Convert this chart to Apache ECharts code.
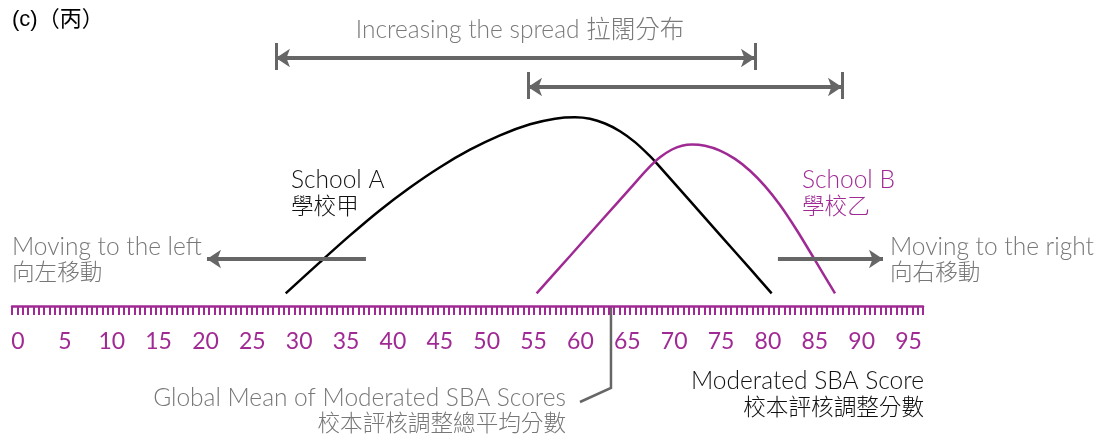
<!DOCTYPE html>
<html>
<head>
<meta charset="utf-8">
<title>Moderated SBA Score</title>
<script src="https://cdn.jsdelivr.net/npm/echarts@6/dist/echarts.min.js"></script>
<style>
	html, body { margin: 0; padding: 0; background: #fff; }
	#chart { width: 1099px; height: 437px; }
</style>
</head>
<body>
<div id="chart"></div>
<script>
// score axis
const scoreMin = 0
const scoreMax = 95
const tickLabels = [0, 5, 10, 15, 20, 25, 30, 35, 40, 45, 50, 55, 60, 65, 70, 75, 80, 85, 90, 95]
// the ruler under the curves has its own fine divisions
const rulerDivisions = 171

// curves [score, height]
const schoolA = [[28.56, 12.7], [32.22, 43.9], [35.42, 70.6], [38.62, 95.8], [41.82, 118.5], [45.02, 138.8], [48.22, 156.3], [51.42, 170.7], [54.62, 181.7], [57.29, 187.3], [59.42, 188.7], [61.02, 187.2], [62.62, 182.5], [64.22, 174.8], [65.82, 163.9], [67.42, 149.9], [68.14, 142.7], [71.69, 105.1], [74.89, 71.2], [78.09, 37.3], [80.4, 12.7]]
const schoolB = [[55.33, 12.7], [58.89, 50], [62.44, 87.5], [65.29, 117.4], [67.1, 136.4], [68.49, 148.7], [69.77, 156.5], [70.83, 160.25], [71.9, 161.5], [73.29, 160.2], [74.89, 155.4], [76.49, 147.1], [78.09, 135.3], [79.69, 119.9], [81.29, 101], [83.07, 76], [85.03, 45.8], [87.16, 12.7]]

// annotations
const globalMean = 63.26
const spreadA = [27.52, 78.62]
const spreadB = [54.41, 87.9]
const moveLeft = [37.12, 20.16]
const moveRight = [81.07, 92.28]

const purple = "#a02a94"
const grey = "#666666"
const font = 'Lato, "Noto Sans CJK TC", sans-serif'

const seg = (x1, y1, x2, y2, style, sym) => [
	{ coord: [x1, y1], symbol: sym ? sym[0] : "none", symbolSize: 14, lineStyle: style },
	{ coord: [x2, y2], symbol: sym ? sym[1] : "none", symbolSize: 14 }
]

const arrowStyle = { color: grey, width: 4, type: "solid" }
const barStyle = { color: grey, width: 3, type: "solid" }

const markLines = [
	seg(spreadA[0], 248, spreadA[1], 248, arrowStyle, ["arrow", "arrow"]),
	seg(spreadA[0], 263, spreadA[0], 236, barStyle),
	seg(spreadA[1], 263, spreadA[1], 236, barStyle),
	seg(spreadB[0], 219, spreadB[1], 219, arrowStyle, ["arrow", "arrow"]),
	seg(spreadB[0], 234, spreadB[0], 207, barStyle),
	seg(spreadB[1], 234, spreadB[1], 207, barStyle),
	seg(moveLeft[0], 47, moveLeft[1], 47, arrowStyle, ["none", "arrow"]),
	seg(moveRight[0], 47, moveRight[1], 47, arrowStyle, ["none", "arrow"])
]

const txt = (text, x, y, color, align, size) => ({
	type: "text",
	x: x,
	y: y,
	style: {
		text: text,
		fill: color,
		font: "300 " + (size || 24.5) + "px " + font,
		textAlign: align || "left",
		textVerticalAlign: "middle"
	}
})
const cjk = 22.6

const chart = echarts.init(document.getElementById("chart"))

const options = {
	animation: false,
	grid: [
		{ left: 18, right: 190.5, top: 6, bottom: 131, outerBoundsMode: "none" },
		{ left: 12, right: 176, top: 6, bottom: 131, outerBoundsMode: "none" }
	],
	xAxis: [
		{
			type: "value",
			gridIndex: 0,
			min: scoreMin,
			max: scoreMax,
			interval: 5,
			splitLine: { show: false },
			axisLine: { show: false },
			axisTick: { show: false },
			axisLabel: {
				color: purple,
				fontFamily: font,
				fontSize: 23,
				margin: 24,
				formatter: v => (tickLabels.includes(v) ? String(v) : "")
			}
		},
		{
			type: "value",
			gridIndex: 1,
			position: "bottom",
			min: 0,
			max: rulerDivisions,
			interval: 1,
			splitLine: { show: false },
			axisLine: { onZero: false, lineStyle: { color: purple, width: 2.5 } },
			axisTick: { length: 9, lineStyle: { color: purple, width: 2 } },
			axisLabel: { show: false }
		}
	],
	yAxis: [
		{ type: "value", gridIndex: 0, min: 0, max: 300, show: false },
		{ type: "value", gridIndex: 1, min: 0, max: 300, show: false }
	],
	series: [
		{
			name: "School A",
			type: "line",
			data: schoolA,
			smooth: 0.3,
			symbol: "none",
			lineStyle: { color: "#000", width: 2.5 }
		},
		{
			name: "School B",
			type: "line",
			data: schoolB,
			smooth: 0.3,
			symbol: "none",
			lineStyle: { color: purple, width: 2.5 },
			markLine: { silent: true, animation: false, label: { show: false }, data: markLines }
		}
	],
	graphic: [
		{ type: "text", x: 12, y: 20, style: { text: "(c)（丙）", fill: "#000", font: '22px "Liberation Sans", "Noto Sans CJK TC"', textVerticalAlign: "middle" } },
		txt("Increasing the spread 拉闊分布", 520, 30, "#7a7a7a", "center"),
		txt("School A", 291, 180, "#111"),
		txt("學校甲", 291, 207, "#111", "left", cjk),
		txt("School B", 802, 180, purple),
		txt("學校乙", 802, 207, purple, "left", cjk),
		txt("Moving to the left", 12, 247, "#777"),
		txt("向左移動", 12, 273, "#777", "left", cjk),
		txt("Moving to the right", 890, 247, "#777"),
		txt("向右移動", 890, 273, "#777", "left", cjk),
		txt("Moderated SBA Score", 924, 381, "#111", "right"),
		txt("校本評核調整分數", 924, 408, "#111", "right", cjk),
		txt("Global Mean of Moderated SBA Scores", 566, 398, "#777", "right"),
		txt("校本評核調整總平均分數", 566, 424, "#777", "right", cjk)
	]
}

chart.setOption(options)

// leader line from the global mean on the axis down to its caption
const meanPt = chart.convertToPixel({ gridIndex: 0 }, [globalMean, 0])
options.graphic.push({
	type: "polyline",
	silent: true,
	shape: { points: [meanPt, [meanPt[0], meanPt[1] + 82], [meanPt[0] - 31, meanPt[1] + 96]] },
	style: { stroke: grey, lineWidth: 2.5, fill: null }
})
chart.setOption(options, true)

window.addEventListener("resize", () => chart.resize(), false)
</script>
</body>
</html>
